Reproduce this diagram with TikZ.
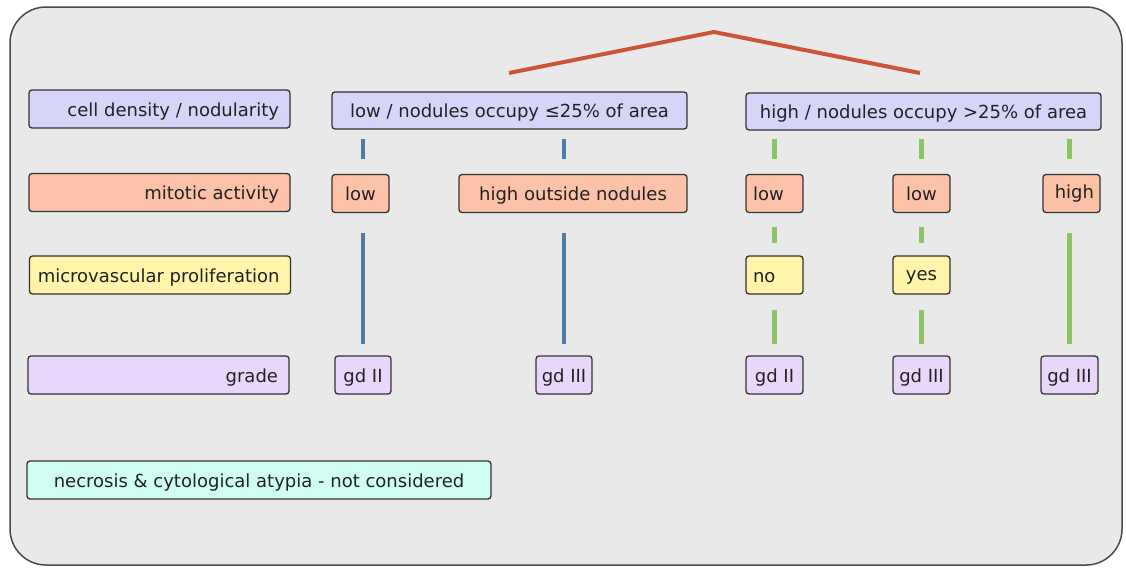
\documentclass[tikz,border=0pt]{standalone}
\usepackage{fontspec}
\setmainfont{DejaVu Sans}
\usetikzlibrary{calc}

\definecolor{panelbg}{HTML}{E9E9E9}
\definecolor{frameline}{HTML}{4A4A4A}
\definecolor{boxline}{HTML}{333333}
\definecolor{txt}{HTML}{222222}
\definecolor{densfill}{HTML}{D5D5FA}
\definecolor{mitfill}{HTML}{FBC2A8}
\definecolor{mvpfill}{HTML}{FFF5AA}
\definecolor{gradefill}{HTML}{EAD6FA}
\definecolor{necfill}{HTML}{CFFDF4}
\definecolor{lowbranch}{HTML}{4D7CA9}
\definecolor{highbranch}{HTML}{8DC463}
\definecolor{rootline}{HTML}{CC5535}

% fixed-width text lines, flush right or flush left
\newcommand\rjust[2]{\makebox[#1][r]{#2}}
\newcommand\ljust[2]{\makebox[#1][l]{#2}}

\tikzset{
  box/.style={draw=boxline, line width=1.3pt, rounded corners=3pt,
    inner xsep=4pt, inner ysep=0pt, text=txt,
    text height=15pt, text depth=1pt,
    font=\fontsize{18}{21}\selectfont, minimum height=38},
  label/.style={box, minimum width=261},
  dens/.style={box, fill=densfill},
  mit/.style={box, fill=mitfill},
  mvp/.style={box, fill=mvpfill},
  gradebox/.style={box, fill=gradefill},
  small/.style={minimum width=57},
  bluelink/.style={draw=lowbranch, line width=4.5pt},
  greenlink/.style={draw=highbranch, line width=4.5pt},
}

\begin{document}
\begin{tikzpicture}[x=1pt, y=-1pt]
\useasboundingbox (0,0) rectangle (1126,568);

% panel
\draw[fill=panelbg, draw=frameline, line width=1.5pt, rounded corners=36pt]
  (10,7) rectangle (1122,565);

% row labels
\node[label, dens] (cd) at (159.5,109) {\rjust{239pt}{cell density / nodularity}};
\node[label, mit]  (ma) at (159.5,192.5) {\rjust{239pt}{mitotic activity}};
\node[label, mvp]  (mv) at (160,275) {\rjust{239pt}{microvascular proliferation}};
\node[label, gradebox] (gr) at (158.5,375) {\rjust{239pt}{grade}};
\node[box, fill=necfill, minimum width=464] (nc) at (259,480)
  {necrosis \& cytological atypia - not considered};

% density branches
\node[dens, minimum width=355, minimum height=37] (lowarea) at (509.5,110.5)
  {low / nodules occupy ≤25\% of area};
\node[dens, minimum width=355, minimum height=37] (higharea) at (923.5,111.5)
  {high / nodules occupy >25\% of area};

% mitotic activity
\node[mit, small] (low1) at (360.5,193.5) {low};
\node[mit, minimum width=228] (hon) at (573,193.5) {high outside nodules};
\node[mit, small] (low2) at (774.5,193.5) {\ljust{43pt}{low}};
\node[mit, small] (low3) at (921.5,193.5) {low};
\node[mit, small] (high) at (1071.5,193.5) {\rjust{45pt}{\raisebox{2pt}{high}}};

% microvascular proliferation
\node[mvp, small] (no)  at (774.5,275) {\ljust{43pt}{no}};
\node[mvp, small] (yes) at (921.5,275) {\raisebox{2pt}{yes}};

% grades
\node[gradebox, small, minimum width=56] (g1) at (363,375) {gd II};
\node[gradebox, small, minimum width=56] (g2) at (564,375) {gd III};
\node[gradebox, small] (g3) at (774.5,375) {gd II};
\node[gradebox, small] (g4) at (921.5,375) {gd III};
\node[gradebox, small] (g5) at (1069.5,375) {gd III};

% root split
\coordinate (apex) at (714,32);
\coordinate (rootL) at (509,73);
\coordinate (rootR) at (920,73);
\draw[rootline, line width=4pt] (rootL) -- (apex) -- (rootR);

% low-density branch
\draw[bluelink, shorten <=9pt, shorten >=15pt] (lowarea.south -| g1) -- (low1.north -| g1);
\draw[bluelink, shorten <=9pt, shorten >=15pt] (lowarea.south -| g2) -- (hon.north -| g2);
\draw[bluelink, shorten <=20pt, shorten >=11pt] (low1.south -| g1) -- (g1.north);
\draw[bluelink, shorten <=20pt, shorten >=11pt] (hon.south -| g2) -- (g2.north);

% high-density branch
\draw[greenlink, shorten <=8pt, shorten >=15pt] (higharea.south -| g3) -- (low2.north -| g3);
\draw[greenlink, shorten <=8pt, shorten >=15pt] (higharea.south -| g4) -- (low3.north -| g4);
\draw[greenlink, shorten <=8pt, shorten >=15pt] (higharea.south -| g5) -- (high.north -| g5);
\draw[greenlink, shorten <=14pt, shorten >=12pt] (low2.south -| g3) -- (no.north -| g3);
\draw[greenlink, shorten <=14pt, shorten >=12pt] (low3.south -| g4) -- (yes.north -| g4);
\draw[greenlink, shorten <=15pt, shorten >=11pt] (no.south -| g3) -- (g3.north);
\draw[greenlink, shorten <=15pt, shorten >=11pt] (yes.south -| g4) -- (g4.north);
\draw[greenlink, shorten <=20pt, shorten >=11pt] (high.south -| g5) -- (g5.north);
\end{tikzpicture}
\end{document}
